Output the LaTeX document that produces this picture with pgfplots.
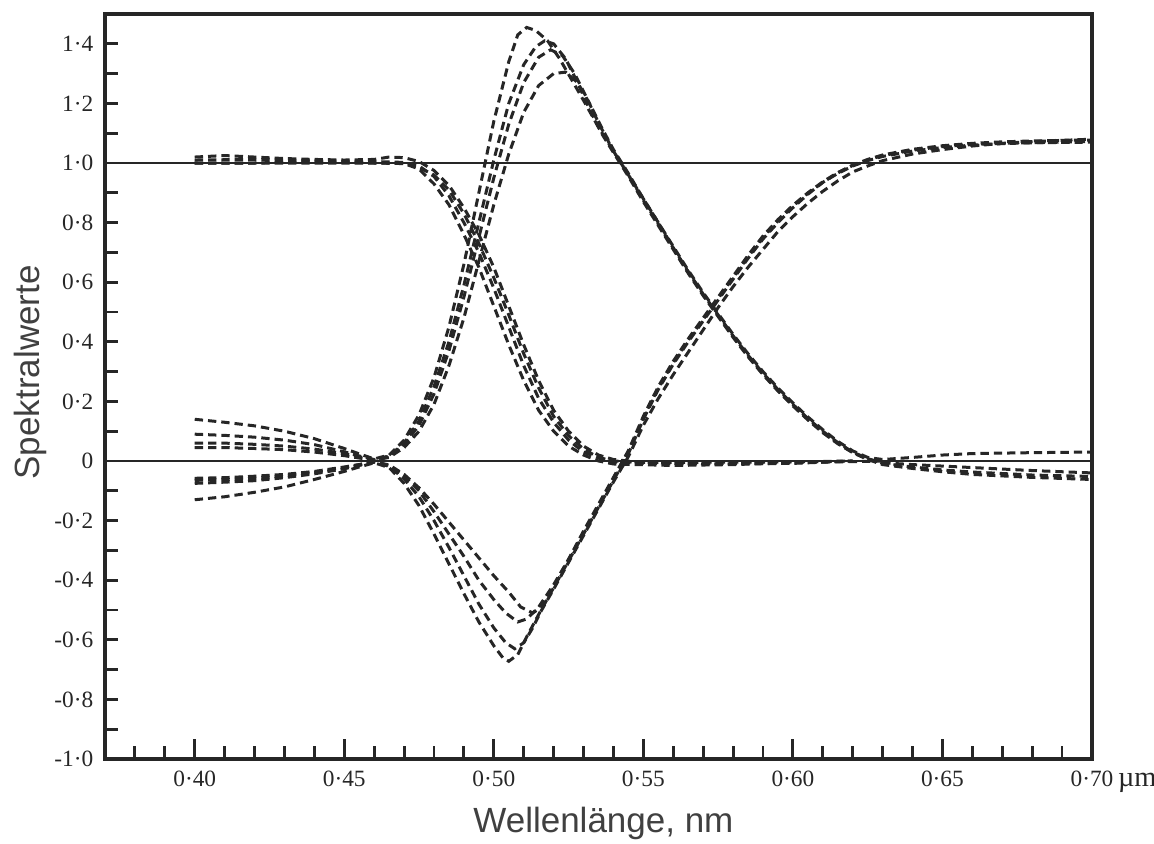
\documentclass[border=0pt]{standalone}
\usepackage{fontspec}
\setmainfont{Liberation Serif}
\newfontfamily\sansfont{Liberation Sans}
\usepackage{pgfplots}
\usepackage{pgfplotstable}
\pgfplotsset{compat=1.18}

% ---------- blue family ----------
\pgfplotstableread{
x y
0.40 1.00
0.42 1.00
0.44 1.005
0.46 1.00
0.47 1.00
0.475 0.99
0.48 0.955
0.485 0.89
0.49 0.80
0.495 0.70
0.50 0.58
0.505 0.45
0.51 0.32
0.515 0.21
0.52 0.13
0.525 0.07
0.53 0.03
0.535 0.01
0.54 -0.003
0.55 -0.008
0.56 -0.01
0.58 -0.008
0.60 -0.005
0.62 -0.002
0.63 0
}\Bone
\pgfplotstableread{
x y
0.40 1.02
0.41 1.025
0.42 1.02
0.43 1.015
0.44 1.012
0.45 1.01
0.46 1.012
0.465 1.02
0.47 1.018
0.475 1.005
0.48 0.975
0.485 0.925
0.49 0.85
0.495 0.76
0.50 0.65
0.505 0.52
0.51 0.39
0.515 0.27
0.52 0.17
0.525 0.10
0.53 0.05
0.535 0.02
0.54 0.005
0.55 -0.005
0.57 -0.01
0.60 -0.008
0.62 0
}\Btwo
\pgfplotstableread{
x y
0.40 1.00
0.43 1.00
0.46 1.00
0.47 0.998
0.475 0.98
0.48 0.93
0.485 0.86
0.49 0.76
0.495 0.65
0.50 0.52
0.505 0.39
0.51 0.27
0.515 0.17
0.52 0.10
0.525 0.05
0.53 0.02
0.535 0.0
0.54 -0.01
0.56 -0.015
0.58 -0.012
0.60 -0.006
0.62 0
}\Bthree
\pgfplotstableread{
x y
0.40 1.01
0.42 1.012
0.44 1.008
0.46 1.005
0.47 1.002
0.475 0.985
0.48 0.96
0.485 0.91
0.49 0.83
0.495 0.73
0.50 0.615
0.505 0.49
0.51 0.36
0.515 0.245
0.52 0.15
0.525 0.085
0.53 0.04
0.535 0.012
0.54 0.0
0.55 -0.005
0.60 -0.003
0.62 0
}\Bfour

% ---------- green family ----------
\pgfplotstableread{
x y
0.40 0.14
0.41 0.13
0.42 0.118
0.43 0.10
0.44 0.075
0.45 0.042
0.455 0.024
0.46 0.007
0.465 0.02
0.47 0.07
0.475 0.155
0.48 0.28
0.485 0.45
0.49 0.66
0.495 0.90
0.50 1.14
0.505 1.34
0.508 1.43
0.511 1.455
0.514 1.445
0.518 1.41
0.522 1.35
0.526 1.28
0.53 1.21
0.535 1.12
0.54 1.04
0.545 0.96
0.55 0.875
0.555 0.795
0.56 0.715
0.565 0.635
0.57 0.56
0.575 0.49
0.58 0.42
0.585 0.355
0.59 0.295
0.595 0.24
0.60 0.19
0.605 0.143
0.61 0.10
0.615 0.062
0.62 0.03
0.625 0.008
0.63 -0.008
0.64 -0.02
0.65 -0.03
0.66 -0.037
0.68 -0.047
0.70 -0.052
}\Gone
\pgfplotstableread{
x y
0.40 0.09
0.41 0.086
0.42 0.08
0.43 0.07
0.44 0.055
0.45 0.031
0.455 0.017
0.46 0.005
0.465 0.017
0.47 0.06
0.475 0.135
0.48 0.25
0.485 0.40
0.49 0.59
0.495 0.80
0.50 1.01
0.505 1.20
0.51 1.33
0.514 1.39
0.517 1.41
0.52 1.40
0.524 1.35
0.528 1.27
0.532 1.18
0.536 1.10
0.54 1.035
0.545 0.955
0.55 0.87
0.555 0.79
0.56 0.71
0.565 0.63
0.57 0.555
0.575 0.485
0.58 0.415
0.585 0.35
0.59 0.29
0.595 0.235
0.60 0.185
0.605 0.138
0.61 0.095
0.615 0.058
0.62 0.028
0.625 0.005
0.63 -0.012
0.64 -0.025
0.65 -0.036
0.66 -0.045
0.68 -0.055
0.70 -0.062
}\Gtwo
\pgfplotstableread{
x y
0.40 0.06
0.41 0.06
0.42 0.056
0.43 0.05
0.44 0.04
0.45 0.025
0.455 0.014
0.46 0.004
0.465 0.015
0.47 0.055
0.475 0.12
0.48 0.225
0.485 0.37
0.49 0.55
0.495 0.75
0.50 0.95
0.505 1.13
0.51 1.27
0.515 1.355
0.519 1.38
0.523 1.36
0.527 1.30
0.531 1.22
0.535 1.135
0.54 1.04
0.545 0.96
0.55 0.88
0.555 0.80
0.56 0.72
0.565 0.64
0.57 0.565
0.575 0.495
0.58 0.425
0.585 0.36
0.59 0.30
0.595 0.245
0.60 0.195
0.605 0.148
0.61 0.105
0.615 0.066
0.62 0.034
0.625 0.012
0.63 0.005
0.64 0.012
0.65 0.02
0.66 0.025
0.68 0.028
0.70 0.03
}\Gthree
\pgfplotstableread{
x y
0.40 0.045
0.41 0.045
0.42 0.042
0.43 0.038
0.44 0.03
0.45 0.018
0.455 0.01
0.46 0.003
0.465 0.012
0.47 0.045
0.475 0.10
0.48 0.19
0.485 0.32
0.49 0.48
0.495 0.67
0.50 0.86
0.505 1.03
0.51 1.17
0.515 1.26
0.52 1.30
0.524 1.305
0.528 1.27
0.532 1.20
0.536 1.12
0.54 1.045
0.545 0.965
0.55 0.88
0.555 0.80
0.56 0.715
0.565 0.635
0.57 0.558
0.575 0.488
0.58 0.418
0.585 0.352
0.59 0.292
0.595 0.237
0.60 0.187
0.605 0.14
0.61 0.097
0.615 0.06
0.62 0.029
0.625 0.007
0.63 -0.006
0.64 -0.012
0.66 -0.022
0.68 -0.032
0.70 -0.04
}\Gfour

% ---------- red family ----------
\pgfplotstableread{
x y
0.40 -0.13
0.41 -0.12
0.42 -0.105
0.43 -0.087
0.44 -0.062
0.45 -0.035
0.455 -0.02
0.46 -0.006
0.465 -0.022
0.47 -0.075
0.475 -0.15
0.48 -0.245
0.485 -0.345
0.49 -0.445
0.495 -0.54
0.50 -0.62
0.503 -0.66
0.505 -0.672
0.508 -0.65
0.511 -0.59
0.515 -0.515
0.52 -0.425
0.525 -0.335
0.53 -0.245
0.535 -0.155
0.54 -0.065
0.545 0.025
0.55 0.14
0.555 0.24
0.56 0.325
0.565 0.40
0.57 0.47
0.575 0.54
0.58 0.61
0.585 0.68
0.59 0.745
0.595 0.80
0.60 0.85
0.605 0.895
0.61 0.935
0.615 0.965
0.62 0.99
0.625 1.008
0.63 1.022
0.64 1.04
0.65 1.052
0.66 1.06
0.67 1.065
0.68 1.068
0.69 1.07
0.70 1.072
}\Rone
\pgfplotstableread{
x y
0.40 -0.075
0.41 -0.071
0.42 -0.066
0.43 -0.056
0.44 -0.043
0.45 -0.026
0.455 -0.015
0.46 -0.004
0.465 -0.018
0.47 -0.06
0.475 -0.12
0.48 -0.20
0.485 -0.29
0.49 -0.385
0.495 -0.48
0.50 -0.56
0.504 -0.61
0.507 -0.63
0.51 -0.61
0.513 -0.56
0.516 -0.50
0.52 -0.43
0.525 -0.34
0.53 -0.25
0.535 -0.16
0.54 -0.07
0.545 0.015
0.55 0.12
0.555 0.21
0.56 0.29
0.565 0.365
0.57 0.44
0.575 0.515
0.58 0.585
0.585 0.65
0.59 0.71
0.595 0.77
0.60 0.82
0.605 0.865
0.61 0.905
0.615 0.94
0.62 0.97
0.625 0.99
0.63 1.008
0.64 1.03
0.65 1.045
0.66 1.057
0.67 1.066
0.68 1.072
0.69 1.076
0.70 1.08
}\Rtwo
\pgfplotstableread{
x y
0.40 -0.058
0.41 -0.056
0.42 -0.051
0.43 -0.045
0.44 -0.035
0.45 -0.02
0.455 -0.012
0.46 -0.003
0.465 -0.015
0.47 -0.05
0.475 -0.10
0.48 -0.17
0.485 -0.245
0.49 -0.32
0.495 -0.40
0.50 -0.465
0.504 -0.51
0.508 -0.54
0.511 -0.53
0.515 -0.49
0.52 -0.415
0.525 -0.33
0.53 -0.24
0.535 -0.15
0.54 -0.06
0.545 0.03
0.55 0.145
0.555 0.245
0.56 0.33
0.565 0.405
0.57 0.475
0.575 0.545
0.58 0.615
0.585 0.685
0.59 0.75
0.595 0.805
0.60 0.855
0.605 0.898
0.61 0.935
0.615 0.967
0.62 0.992
0.625 1.01
0.63 1.025
0.64 1.043
0.65 1.055
0.66 1.062
0.67 1.066
0.68 1.068
0.69 1.069
0.70 1.07
}\Rthree
\pgfplotstableread{
x y
0.40 -0.065
0.41 -0.062
0.42 -0.058
0.43 -0.05
0.44 -0.038
0.45 -0.022
0.455 -0.012
0.46 -0.003
0.465 -0.013
0.47 -0.045
0.475 -0.09
0.48 -0.145
0.485 -0.205
0.49 -0.265
0.495 -0.325
0.50 -0.385
0.505 -0.44
0.509 -0.49
0.513 -0.51
0.516 -0.49
0.52 -0.42
0.525 -0.33
0.53 -0.235
0.535 -0.145
0.54 -0.055
0.545 0.035
0.55 0.15
0.555 0.25
0.56 0.335
0.565 0.41
0.57 0.48
0.575 0.55
0.58 0.62
0.585 0.69
0.59 0.755
0.595 0.81
0.60 0.858
0.605 0.90
0.61 0.937
0.615 0.968
0.62 0.993
0.625 1.012
0.63 1.027
0.64 1.046
0.65 1.058
0.66 1.066
0.67 1.071
0.68 1.074
0.69 1.076
0.70 1.077
}\Rfour

\pgfplotsset{
  curve/.style={black!85, line width=0.9pt, dash pattern=on 2.5pt off 1.5pt, no markers},
  refline/.style={black!85, line width=0.75pt, solid, no markers},
}

\begin{document}
\begin{tikzpicture}
\path[use as bounding box] (-31.5pt,-25.2pt) rectangle (314.7pt,227.7pt);
\begin{axis}[
  at={(0pt,0pt)}, anchor=south west,
  scale only axis, width=296.1pt, height=223.5pt,
  xmin=0.37, xmax=0.70, ymin=-1, ymax=1.5,
  axis line style={line width=0.95pt, black!85},
  tick pos=left, tick align=inside,
  every tick/.style={line width=0.85pt, black!85},
  major tick length=6pt, minor tick length=3.8pt,
  xtick={0.40,0.45,0.50,0.55,0.60,0.65,0.70},
  xticklabels={0·40,0·45,0·50,0·55,0·60,0·65,{0·70\rlap{\fontsize{8.5}{10}\selectfont\,µm}}},
  minor xtick={0.38,0.39,0.41,0.42,0.43,0.44,0.46,0.47,0.48,0.49,0.51,0.52,0.53,0.54,0.56,0.57,0.58,0.59,0.61,0.62,0.63,0.64,0.66,0.67,0.68,0.69},
  ytick={-1.0,-0.8,-0.6,-0.4,-0.2,0,0.2,0.4,0.6,0.8,1.0,1.2,1.4},
  yticklabels={-1·0,-0·8,-0·6,-0·4,-0·2,0,0·2,0·4,0·6,0·8,1·0,1·2,1·4},
  minor ytick={-0.9,-0.8,-0.7,-0.6,-0.5,-0.4,-0.3,-0.2,-0.1,0,0.1,0.2,0.3,0.4,0.5,0.6,0.7,0.8,0.9,1.0,1.1,1.2,1.3,1.4},
  major y tick style={draw=none},
  ticklabel style={font=\fontsize{7}{8}\selectfont, text=black!85},
  xlabel={Wellenlänge, nm},
  ylabel={Spektralwerte},
  xlabel style={font=\sansfont\fontsize{10.5}{12}\selectfont, text=black!75, at={(axis description cs:0.505,-0.098)}, anchor=base},
  ylabel style={font=\sansfont\fontsize{10.5}{12}\selectfont, text=black!75, at={(axis description cs:-0.076,0.519)}, anchor=center},
]
\addplot[refline] coordinates {(0.37,1) (0.70,1)};
\addplot[refline] coordinates {(0.37,0) (0.70,0)};
\addplot[curve] table[x=x,y=y] {\Bone};
\addplot[curve] table[x=x,y=y] {\Btwo};
\addplot[curve] table[x=x,y=y] {\Bthree};
\addplot[curve] table[x=x,y=y] {\Bfour};
\addplot[curve] table[x=x,y=y] {\Gone};
\addplot[curve] table[x=x,y=y] {\Gtwo};
\addplot[curve] table[x=x,y=y] {\Gthree};
\addplot[curve] table[x=x,y=y] {\Gfour};
\addplot[curve] table[x=x,y=y] {\Rone};
\addplot[curve] table[x=x,y=y] {\Rtwo};
\addplot[curve] table[x=x,y=y] {\Rthree};
\addplot[curve] table[x=x,y=y] {\Rfour};
\end{axis}
\end{tikzpicture}
\end{document}
